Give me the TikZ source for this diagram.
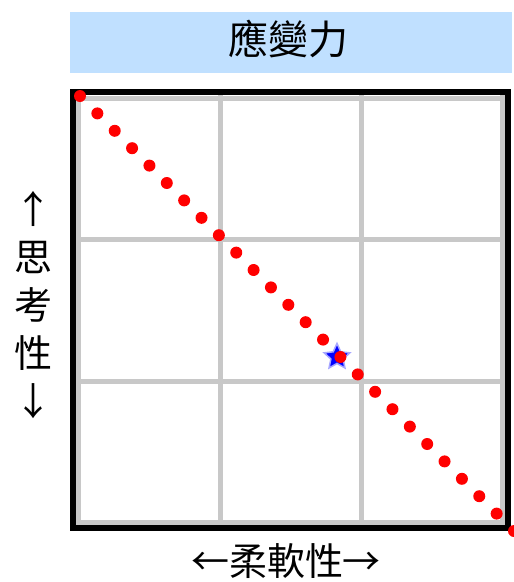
\documentclass[tikz,border=0pt]{standalone}
\usepackage{fontspec}
\newfontfamily\cjk{Noto Sans CJK TC}
\usetikzlibrary{shapes.geometric}
\definecolor{titlebg}{HTML}{C0E0FF}
\definecolor{gridgray}{HTML}{C8C8C8}

\begin{document}
\begin{tikzpicture}[x=1pt,y=-1pt,
  labeltext/.style={font=\cjk\fontsize{38}{48}\selectfont,inner sep=0pt,align=center},
  gridline/.style={gridgray,line width=5pt}]
\useasboundingbox (0,0) rectangle (514,582);
% Title bar
\fill[titlebg] (70,12) rectangle (512,73);
\node[labeltext,font=\cjk\fontsize{40}{48}\selectfont] (title) at (288,39) {應變力};

% Grid lines
\foreach \g in {78.5,220,361.5,502.5} {
  \draw[gridline] (\g,95) -- (\g,525);
  \draw[gridline] (76,\g+19.5) -- (505,\g+19.5);
}
% Outer frame
\draw[black,line width=6pt] (73,92) rectangle (508,528);

% Position mark
\node[star,star points=5,star point ratio=2.1,fill=blue,draw=blue!35,
  line width=1.5pt,minimum size=27pt,inner sep=0pt] (mark) at (337,357) {};

% Diagonal of red dots
\foreach \i in {0,...,25} {
  \fill[red] (80+17.36*\i,96+17.4*\i) circle (6);
}

% Axis labels
\node[labeltext] (vlabel) at (34,305) {↑\\思\\考\\性\\↓};
\node[labeltext] (hlabel) at (286,561) {←柔軟性→};
\end{tikzpicture}
\end{document}
